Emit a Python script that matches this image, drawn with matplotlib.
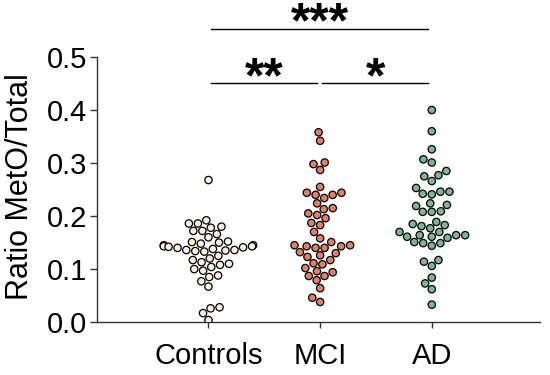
import numpy as np
import pandas as pd
import matplotlib
matplotlib.use('Agg')
import matplotlib.pyplot as plt
import seaborn as sns

# Valeurs (ratio MetO / total)
groups = ['Controls', 'MCI', 'AD']

controls = [0.268,
            0.192, 0.186, 0.186, 0.180, 0.178, 0.172, 0.172, 0.166, 0.160,
            0.152, 0.151, 0.150, 0.148, 0.145, 0.145, 0.143, 0.143, 0.142,
            0.141, 0.140, 0.138, 0.136, 0.136, 0.135, 0.134, 0.133,
            0.125, 0.120, 0.117, 0.113, 0.110, 0.108, 0.104, 0.100, 0.097,
            0.088, 0.085, 0.077, 0.067,
            0.028, 0.026, 0.017, 0.004]

mci = [0.358, 0.342,
       0.301, 0.298, 0.287,
       0.255, 0.244, 0.240, 0.240, 0.244, 0.234,
       0.224, 0.215, 0.213, 0.205, 0.202, 0.196, 0.187, 0.183,
       0.170, 0.158, 0.151, 0.145, 0.143,
       0.140, 0.132, 0.130, 0.143, 0.140, 0.145,
       0.126, 0.117, 0.123,
       0.109, 0.111, 0.102, 0.094, 0.096,
       0.087, 0.087, 0.079, 0.064, 0.046, 0.038]

ad = [0.400, 0.360, 0.326,
      0.307, 0.301,
      0.285, 0.275, 0.277, 0.266,
      0.242, 0.246, 0.246, 0.253, 0.241,
      0.219, 0.224, 0.221, 0.208, 0.209, 0.208,
      0.183, 0.177, 0.185, 0.189, 0.181,
      0.170, 0.164, 0.159, 0.164, 0.170, 0.164, 0.161, 0.161,
      0.149, 0.149, 0.144, 0.151,
      0.106, 0.114, 0.117,
      0.084, 0.073, 0.062, 0.033]

colors = ['#f3f1df', '#e27f67', '#7eb39d']

# comparaisons : (groupe a, groupe b, hauteur barre, hauteur étoiles, étoiles)
comparisons = [(0, 2, 0.553, 0.538, '***'), (0, 1, 0.451, 0.434, '**'), (1, 2, 0.451, 0.434, '*')]

df = pd.DataFrame({
    'group': ['Controls'] * len(controls) + ['MCI'] * len(mci) + ['AD'] * len(ad),
    'value': controls + mci + ad,
})

plt.rcParams['font.family'] = ['Liberation Sans', 'DejaVu Sans']

fig = plt.figure(figsize=(5.5, 3.75), dpi=100)
ax = fig.add_axes([0.176, 0.141, 0.806, 0.707])

sns.swarmplot(data=df, x='group', y='value', hue='group', order=groups,
              palette=dict(zip(groups, colors)), size=5.3, edgecolor='black',
              linewidth=0.9, legend=False, ax=ax)

ax.set_xlim(-1.0, 2.97)
ax.set_ylim(0, 0.5)
ax.set_yticks(np.arange(0, 0.51, 0.1))
ax.set_yticklabels([f'{v:.1f}' for v in np.arange(0, 0.51, 0.1)])
ax.set_xticks(range(len(groups)))
ax.set_xticklabels(groups)
ax.set_xlabel('')
ax.set_ylabel('Ratio MetO/Total', fontsize=22)
ax.yaxis.set_label_coords(-0.14, 0.51)

for s in ['top', 'right']:
    ax.spines[s].set_visible(False)
for s in ['left', 'bottom']:
    ax.spines[s].set_color('#333333')
    ax.spines[s].set_linewidth(1.0)
ax.tick_params(axis='y', labelsize=21, length=5, width=1, color='#333333', pad=2)
ax.tick_params(axis='x', labelsize=21, length=4, width=1, color='#333333', pad=10)

# barres de significativité
for a, b, h, ht, stars in comparisons:
    ax.plot([a + 0.02, b - 0.03], [h, h], color='black', lw=1.0, clip_on=False)
    ax.text((a + b) / 2, ht, stars, ha='center', va='baseline',
            fontsize=36, fontweight='bold', clip_on=False)

fig.savefig('out.png', dpi=100)
